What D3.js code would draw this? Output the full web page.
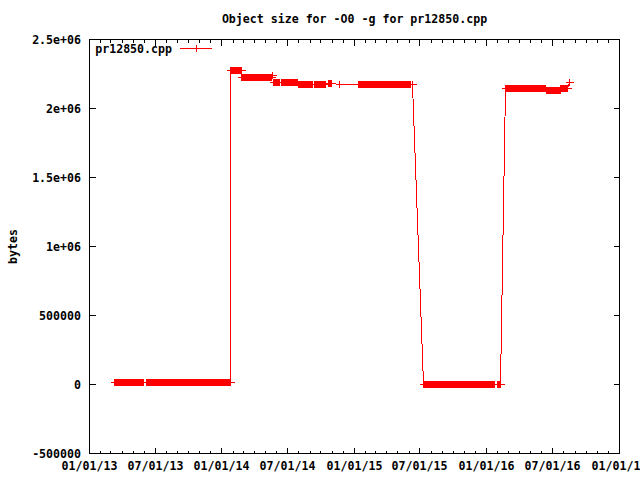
<!DOCTYPE html>
<html><head><meta charset="utf-8">
<script src="https://cdn.jsdelivr.net/npm/d3@7"></script>
<style>
html,body{margin:0;padding:0;background:#fff;}
svg{display:block;}
text{font-family:"DejaVu Sans Mono","Liberation Mono",monospace;font-weight:bold;font-size:11.6px;fill:#000;}
</style>
</head><body><svg id="c" width="640" height="480"></svg>
<script>
const chartTitle = "Object size for -O0 -g for pr12850.cpp";
const seriesName = "pr12850.cpp";
const yAxisTitle = "bytes";
const xTickDates = ["2013-01-01","2013-07-01","2014-01-01","2014-07-01","2015-01-01","2015-07-01","2016-01-01","2016-07-01","2017-01-01"];
const xTickLabels = ["01/01/13","07/01/13","01/01/14","07/01/14","01/01/15","07/01/15","01/01/16","07/01/16","01/01/17"];
const yTickValues = [-500000,0,500000,1000000,1500000,2000000,2500000];
const yTickLabels = ["-500000","0","500000","1e+06","1.5e+06","2e+06","2.5e+06"];

// build dates, as days since 01/01/13
const dayOffsets = [
69,71,73,75,77,79,81,83,85,87,
89,91,93,95,97,99,101,103,105,107,
109,111,113,115,117,119,121,123,125,127,
129,131,133,135,137,139,141,143,145,147,
149,157,159,161,163,165,167,169,171,173,
175,177,179,181,183,185,187,189,191,193,
195,197,199,201,203,205,207,209,211,213,
215,217,219,221,223,225,227,229,231,233,
235,237,239,241,243,245,247,249,251,253,
255,257,259,261,263,265,267,269,271,273,
275,277,279,281,283,285,287,289,291,293,
295,297,299,301,303,305,307,309,311,313,
315,317,319,321,323,325,327,329,331,333,
335,337,339,341,343,345,347,349,351,353,
355,357,359,361,363,365,367,369,371,373,
375,377,379,381,383,385,387,389,390,392,
394,396,398,400,402,404,406,408,410,412,
414,416,418,420,422,424,426,428,430,432,
434,436,438,440,442,444,446,448,450,452,
454,456,458,460,462,464,466,468,470,472,
474,476,478,480,482,484,486,488,490,492,
494,496,498,500,502,504,507,509,511,513,
515,517,519,521,523,529,531,533,535,537,
539,541,543,545,547,549,551,553,555,557,
559,561,563,565,567,569,571,573,575,577,
579,581,583,585,587,589,591,593,595,597,
599,601,603,605,607,609,611,613,615,619,
621,623,625,627,629,631,633,635,637,639,
641,643,645,647,649,651,659,661,663,665,
667,688,690,741,743,745,747,749,751,753,
755,757,759,761,763,765,767,769,771,773,
775,777,779,781,783,785,787,789,791,793,
795,797,799,801,803,805,807,809,811,813,
815,817,819,821,823,825,827,829,831,833,
835,837,839,841,843,845,847,849,851,853,
855,857,859,861,863,865,867,869,871,873,
875,877,879,881,883,885,890,921,923,925,
927,929,931,933,935,937,939,941,943,945,
947,949,951,953,955,957,959,961,963,965,
967,969,971,973,975,977,979,981,983,985,
987,989,991,993,995,997,999,1001,1003,1005,
1007,1009,1011,1013,1015,1017,1019,1021,1023,1025,
1027,1029,1031,1033,1035,1037,1039,1041,1043,1045,
1047,1049,1051,1053,1055,1057,1059,1061,1063,1065,
1067,1069,1071,1073,1075,1077,1079,1081,1083,1085,
1087,1089,1091,1093,1095,1097,1099,1101,1103,1105,
1107,1109,1111,1113,1115,1117,1124,1127,1130,1133,
1148,1150,1152,1154,1156,1158,1160,1162,1164,1166,
1168,1170,1172,1174,1176,1178,1180,1182,1184,1186,
1188,1190,1192,1194,1196,1198,1200,1202,1204,1206,
1208,1210,1212,1214,1216,1218,1220,1222,1224,1226,
1228,1230,1232,1234,1236,1238,1240,1242,1244,1246,
1248,1250,1252,1254,1256,1259,1261,1263,1265,1267,
1269,1271,1273,1275,1277,1279,1281,1283,1285,1287,
1289,1291,1293,1295,1297,1299,1301,1303,1305,1307,
1309,1311,1313,1315,1317,1319,1322
];

// object size in bytes
const sizeBytes = [
14e3,14e3,14e3,14e3,14e3,14e3,14e3,14e3,14e3,14e3,
14e3,14e3,14e3,14e3,14e3,14e3,14e3,14e3,14e3,14e3,
14e3,14e3,14e3,14e3,14e3,14e3,14e3,14e3,14e3,14e3,
14e3,14e3,14e3,14e3,14e3,14e3,14e3,14e3,14e3,14e3,
14e3,14e3,14e3,14e3,14e3,14e3,14e3,14e3,14e3,14e3,
14e3,14e3,14e3,14e3,14e3,14e3,14e3,14e3,14e3,14e3,
14e3,14e3,14e3,14e3,14e3,14e3,14e3,14e3,14e3,14e3,
14e3,14e3,14e3,14e3,14e3,14e3,14e3,14e3,14e3,14e3,
14e3,14e3,14e3,14e3,14e3,14e3,14e3,14e3,14e3,14e3,
14e3,14e3,14e3,14e3,14e3,14e3,14e3,14e3,14e3,14e3,
14e3,14e3,14e3,14e3,14e3,14e3,14e3,14e3,14e3,14e3,
14e3,14e3,14e3,14e3,14e3,14e3,14e3,14e3,14e3,14e3,
14e3,14e3,14e3,14e3,14e3,14e3,14e3,14e3,14e3,14e3,
14e3,14e3,14e3,14e3,14e3,14e3,14e3,14e3,14e3,14e3,
14e3,14e3,14e3,14e3,14e3,14e3,14e3,14e3,14e3,14e3,
14e3,14e3,14e3,14e3,14e3,14e3,14e3,14e3,2275e3,2275e3,
2275e3,2275e3,2275e3,2275e3,2275e3,2275e3,2275e3,2275e3,2275e3,2275e3,
2275e3,2275e3,2275e3,2222e3,2222e3,2222e3,2222e3,2222e3,2222e3,2222e3,
2222e3,2222e3,2222e3,2222e3,2222e3,2222e3,2222e3,2222e3,2222e3,2222e3,
2222e3,2222e3,2222e3,2222e3,2222e3,2222e3,2222e3,2222e3,2222e3,2222e3,
2222e3,2222e3,2222e3,2222e3,2222e3,2222e3,2222e3,2222e3,2222e3,2222e3,
2222e3,2222e3,2222e3,2222e3,2222e3,2236e3,2185e3,2185e3,2185e3,2185e3,
2185e3,2185e3,2185e3,2185e3,2185e3,2185e3,2185e3,2185e3,2185e3,2185e3,
2185e3,2185e3,2185e3,2185e3,2185e3,2185e3,2185e3,2185e3,2185e3,2185e3,
2185e3,2185e3,2185e3,2185e3,2185e3,2185e3,2185e3,2185e3,2172e3,2172e3,
2172e3,2172e3,2172e3,2172e3,2172e3,2172e3,2172e3,2172e3,2172e3,2172e3,
2172e3,2172e3,2172e3,2172e3,2172e3,2172e3,2172e3,2172e3,2172e3,2172e3,
2172e3,2172e3,2172e3,2172e3,2172e3,2172e3,2172e3,2172e3,2172e3,2172e3,
2172e3,2172e3,2172e3,2172e3,2172e3,2172e3,2180e3,2180e3,2180e3,2180e3,
2180e3,2172e3,2172e3,2172e3,2172e3,2172e3,2172e3,2172e3,2172e3,2172e3,
2172e3,2172e3,2172e3,2172e3,2172e3,2172e3,2172e3,2172e3,2172e3,2172e3,
2172e3,2172e3,2172e3,2172e3,2172e3,2172e3,2172e3,2172e3,2172e3,2172e3,
2172e3,2172e3,2172e3,2172e3,2172e3,2172e3,2172e3,2172e3,2172e3,2172e3,
2172e3,2172e3,2172e3,2172e3,2172e3,2172e3,2172e3,2172e3,2172e3,2172e3,
2172e3,2172e3,2172e3,2172e3,2172e3,2172e3,2172e3,2172e3,2172e3,2172e3,
2172e3,2172e3,2172e3,2172e3,2172e3,2172e3,2172e3,2172e3,2172e3,2172e3,
2172e3,2172e3,2172e3,2172e3,2172e3,2172e3,2172e3,0,0,0,
0,0,0,0,0,0,0,0,0,0,
0,0,0,0,0,0,0,0,0,0,
0,0,0,0,0,0,0,0,0,0,
0,0,0,0,0,0,0,0,0,0,
0,0,0,0,0,0,0,0,0,0,
0,0,0,0,0,0,0,0,0,0,
0,0,0,0,0,0,0,0,0,0,
0,0,0,0,0,0,0,0,0,0,
0,0,0,0,0,0,0,0,0,0,
0,0,0,0,0,0,0,0,0,0,
2142e3,2142e3,2142e3,2142e3,2142e3,2142e3,2142e3,2142e3,2142e3,2142e3,
2142e3,2142e3,2142e3,2142e3,2142e3,2142e3,2142e3,2142e3,2142e3,2142e3,
2142e3,2142e3,2142e3,2142e3,2142e3,2142e3,2142e3,2142e3,2142e3,2142e3,
2142e3,2142e3,2142e3,2142e3,2142e3,2142e3,2142e3,2142e3,2142e3,2142e3,
2142e3,2142e3,2142e3,2142e3,2142e3,2142e3,2142e3,2142e3,2142e3,2142e3,
2142e3,2142e3,2142e3,2142e3,2142e3,2131e3,2131e3,2131e3,2131e3,2131e3,
2131e3,2131e3,2131e3,2131e3,2131e3,2131e3,2131e3,2131e3,2131e3,2131e3,
2131e3,2131e3,2131e3,2131e3,2131e3,2142e3,2142e3,2142e3,2142e3,2142e3,
2142e3,2142e3,2142e3,2142e3,2142e3,2142e3,2188e3
];

const svg = d3.select("#c");
const L = 89.5, R = 619.5, T = 39.5, B = 453.5;
const baseDate = new Date(2013, 0, 1);
const parse = d3.timeParse("%Y-%m-%d");

const x = d3.scaleTime().domain([parse(xTickDates[0]), parse(xTickDates[xTickDates.length-1])]).range([L, R]);
const y = d3.scaleLinear().domain([yTickValues[0], yTickValues[yTickValues.length-1]]).range([B, T]);
const snap = v => Math.round(v - 0.5) + 0.5;

const n = Math.min(dayOffsets.length, sizeBytes.length);
const data = d3.range(n).map(i => ({date: d3.timeDay.offset(baseDate, dayOffsets[i]), v: sizeBytes[i]}));

const g = svg.append("g").attr("shape-rendering", "crispEdges");

// ticks
const majorLen = 6, minorLen = 3;
yTickValues.forEach((v, i) => {
  const yy = snap(y(v));
  g.append("line").attr("x1", L).attr("x2", L + majorLen).attr("y1", yy).attr("y2", yy).attr("stroke", "#000");
  g.append("line").attr("x1", R).attr("x2", R - majorLen).attr("y1", yy).attr("y2", yy).attr("stroke", "#000");
  svg.append("text").attr("x", 81).attr("y", yy + 4).attr("text-anchor", "end").text(yTickLabels[i]);
});
const minorMonths = d3.timeMonth.range(x.domain()[0], x.domain()[1]);
minorMonths.forEach(d => {
  const xx = snap(x(d));
  g.append("line").attr("x1", xx).attr("x2", xx).attr("y1", B).attr("y2", B - minorLen).attr("stroke", "#000");
  g.append("line").attr("x1", xx).attr("x2", xx).attr("y1", T).attr("y2", T + minorLen).attr("stroke", "#000");
});
xTickDates.forEach((s, i) => {
  const xx = snap(x(parse(s)));
  g.append("line").attr("x1", xx).attr("x2", xx).attr("y1", B).attr("y2", B - majorLen).attr("stroke", "#000");
  g.append("line").attr("x1", xx).attr("x2", xx).attr("y1", T).attr("y2", T + majorLen).attr("stroke", "#000");
  svg.append("text").attr("x", xx).attr("y", 470).attr("text-anchor", "middle").text(xTickLabels[i]);
});

// border
g.append("rect").attr("x", L).attr("y", T).attr("width", R - L).attr("height", B - T)
  .attr("fill", "none").attr("stroke", "#000");

// titles
svg.append("text").attr("x", (L + R) / 2).attr("y", 23).attr("text-anchor", "middle").text(chartTitle);
svg.append("text").attr("transform", "translate(17," + ((T + B) / 2) + ") rotate(-90)")
  .attr("text-anchor", "middle").text(yAxisTitle);

// series line
const line = d3.line().x(d => snap(x(d.date))).y(d => snap(y(d.v)));
g.append("path").datum(data).attr("d", line).attr("fill", "none").attr("stroke", "#ff0000").attr("stroke-width", 1);

// point markers (+)
const hw = 4, hh = 3.5;
g.append("g").selectAll("path").data(data).join("path")
  .attr("d", d => {
    const cx = snap(x(d.date)), cy = snap(y(d.v));
    return `M${cx - hw},${cy}H${cx + hw}M${cx},${cy - hh}V${cy + hh}`;
  })
  .attr("fill", "none").attr("stroke", "#ff0000").attr("stroke-width", 1);

// legend
svg.append("text").attr("x", 172).attr("y", 53).attr("text-anchor", "end").text(seriesName);
const ly = 48.5;
g.append("line").attr("x1", 180).attr("x2", 212).attr("y1", ly).attr("y2", ly).attr("stroke", "#ff0000");
g.append("path").attr("d", `M${196.5 - hw},${ly}H${196.5 + hw}M196.5,${ly - hh}V${ly + hh}`)
  .attr("fill", "none").attr("stroke", "#ff0000");
</script>
</body></html>
